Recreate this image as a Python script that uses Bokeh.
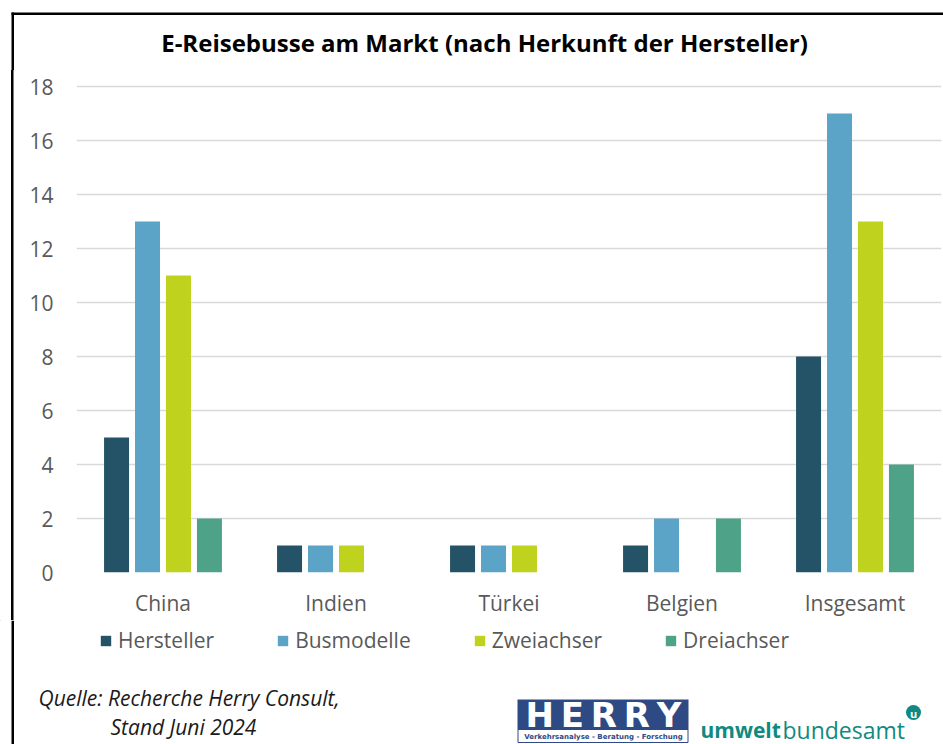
import numpy as np
from bokeh.plotting import figure
from bokeh.layouts import column
from bokeh.models import Range1d, FixedTicker, Legend, LegendItem, ColumnDataSource
from bokeh.core.properties import value
from bokeh.embed import file_html
from bokeh.resources import INLINE

# ---------------- data ----------------
categories = ["China", "Indien", "Türkei", "Belgien", "Insgesamt"]
series = ["Hersteller", "Busmodelle", "Zweiachser", "Dreiachser"]
hersteller = [5, 1, 1, 1, 8]
busmodelle = [13, 1, 1, 2, 17]
zweiachser = [11, 1, 1, 0, 13]
dreiachser = [2, 0, 0, 2, 4]
colors = ["#245367", "#5BA3C7", "#BFD31E", "#4EA287"]
y_ticks = list(range(0, 19, 2))
title_text = "E-Reisebusse am Markt (nach Herkunft der Hersteller)"
source_lines = ["Quelle: Recherche Herry Consult,", "Stand Juni 2024"]

values = [hersteller, busmodelle, zweiachser, dreiachser]

FONT = "Open Sans"
GRAY = "#595959"
BORDER = "black"


def blank(width, height, x0, x1, y0, y1):
    f = figure(width=width, height=height, output_backend="svg", toolbar_location=None,
               x_range=Range1d(x0, x1), y_range=Range1d(y0, y1),
               x_axis_location=None, y_axis_location=None, min_border=0,
               frame_align=False)
    f.outline_line_color = None
    f.xgrid.visible = False
    f.ygrid.visible = False
    f.border_fill_color = "white"
    f.background_fill_color = "white"
    return f

# ---------- top strip: title + border ----------
top = blank(943, 70, 0, 943, 70, 0)
top.quad(left=[11], right=[943], top=[12], bottom=[14.5], fill_color=BORDER, line_color=None)
top.quad(left=[11], right=[13.5], top=[12], bottom=[70], fill_color=BORDER, line_color=None)
top.text(x=[484], y=[42], text=[title_text], text_font=value(FONT), text_font_size="24px",
         text_font_style="bold", text_color="black", text_align="center", text_baseline="middle")

# ---------- chart ----------
p = figure(width=943, height=550, output_backend="svg", toolbar_location=None,
           x_range=Range1d(-0.5, 4.5), y_range=Range1d(0, 18 + 16 / 27),
           min_border_left=76, min_border_right=2, min_border_top=0, min_border_bottom=48,
           frame_align=False)
p.outline_line_color = None
p.background_fill_color = "white"
p.border_fill_color = None
# left frame line of the whole graphic, drawn behind the transparent border area
p.styles = {"background": "linear-gradient(black, black) 11px 0px / 2.5px 100% no-repeat, white"}

step = 0.179
width = 0.1445
idx = np.arange(len(categories))
for k, (name, vals, col) in enumerate(zip(series, values, colors)):
    off = (k - 1.5) * step
    src = ColumnDataSource(dict(x=idx + off, top=vals))
    p.vbar(x="x", top="top", bottom=0, width=width, source=src, fill_color=col, line_color=None)

p.xaxis.ticker = FixedTicker(ticks=list(idx))
p.xaxis.major_label_overrides = {int(i): c for i, c in zip(idx, categories)}
p.yaxis.ticker = FixedTicker(ticks=y_ticks)
for ax in (p.xaxis[0], p.yaxis[0]):
    ax.axis_line_color = None
    ax.major_tick_line_color = None
    ax.minor_tick_line_color = None
    ax.major_label_text_font = FONT
    ax.major_label_text_font_size = "21px"
    ax.major_label_text_color = GRAY
p.yaxis.major_label_standoff = 17
p.xaxis.major_label_standoff = 10
p.xgrid.grid_line_color = None
p.ygrid.ticker = FixedTicker(ticks=y_ticks)
p.ygrid.grid_line_color = "#D9D9D9"
p.ygrid.grid_line_width = 1.6

# ---------- bottom: legend, source, logos ----------
bot = blank(943, 124, 0, 943, 744, 620)
bot.quad(left=[11], right=[13.5], top=[620], bottom=[744], fill_color=BORDER, line_color=None)

# legend keys: proxy renderers placed outside the visible range
proxies = []
for name, col in zip(series, colors):
    r = bot.vbar(x=[-500], top=[0], bottom=[-1], width=1, fill_color=col, line_color=None)
    proxies.append(LegendItem(label=name, renderers=[r]))
legend = Legend(items=proxies, orientation="horizontal", location=(99, 90),
                glyph_width=13, glyph_height=13, label_standoff=6, spacing=62,
                padding=0, margin=0, border_line_color=None, background_fill_alpha=0,
                label_text_font=FONT, label_text_font_size="21px", label_text_color=GRAY)
bot.add_layout(legend, "center")

bot.text(x=[38, 110], y=[697, 726], text=source_lines, text_font=value(FONT),
         text_font_size="21px", text_font_style="italic", text_color="#1a1a1a",
         text_baseline="middle")

# HERRY logo
BLUE = "#2E4A84"
bot.quad(left=[517], right=[688], top=[699], bottom=[729], fill_color=BLUE, line_color=None)
bot.quad(left=[517.5], right=[687.5], top=[729], bottom=[742], fill_color="white",
         line_color=BLUE, line_width=1)
bot.text(x=[603], y=[714], text=["H\u2009E\u2009R\u2009R\u2009Y"], text_font=value("DejaVu Sans"),
         text_font_size="34px", text_font_style="bold", text_color="white",
         text_align="center", text_baseline="middle")
bot.text(x=[603], y=[736], text=["Verkehrsanalyse - Beratung - Forschung"],
         text_font=value("DejaVu Sans"), text_font_size="7px", text_font_style="bold",
         text_color=BLUE, text_align="center", text_baseline="middle")

# umweltbundesamt logo
TEAL = "#0F8A80"
bot.text(x=[700], y=[729], text=["umwelt"], text_font=value(FONT), text_font_size="21px",
         text_font_style="bold", text_color=TEAL, text_baseline="alphabetic")
bot.text(x=[782], y=[729], text=["bundesamt"], text_font=value(FONT), text_font_size="23px",
         text_color=TEAL, text_baseline="alphabetic")
bot.scatter(x=[913], y=[712], size=15, marker="circle", fill_color=TEAL, line_color=None)
bot.text(x=[913], y=[712.5], text=["u"], text_font=value(FONT), text_font_size="11px",
         text_font_style="bold", text_color="white", text_align="center", text_baseline="middle")

layout = column(top, p, bot)
open("out.html", "w").write(file_html(layout, INLINE))
